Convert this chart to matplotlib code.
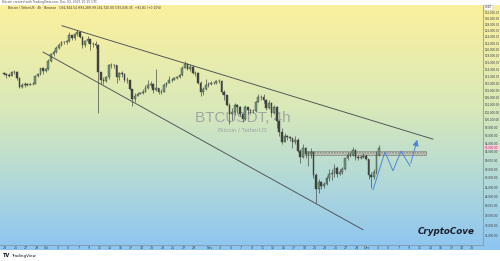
import matplotlib
matplotlib.use('Agg')
import matplotlib.pyplot as plt
import matplotlib.dates as mdates
import matplotlib.ticker as mticker
import numpy as np
from matplotlib.colors import LinearSegmentedColormap
from matplotlib.patches import Rectangle

# 12h candles (prices in thousand USDT), from 2025-09-22 12:00
first_open = 112.8
closes = [
    112.7,
    112.4, 112.0, 113.1, 113.3, 111.3, 109.0, 109.4, 109.6, 109.5, 109.7, 109.8, 112.0,
    112.6, 114.3, 113.6, 114.0, 116.5, 118.6, 119.2, 120.5, 121.4, 122.3, 122.3, 122.5,
    124.5, 123.5, 124.8, 125.5, 124.0, 121.4, 122.5, 123.3, 121.8, 121.7, 121.3, 113.2,
    111.0, 110.6, 111.6, 115.2, 115.3, 115.2, 111.6, 113.0, 112.6, 110.8, 110.9, 108.2,
    105.5, 106.4, 107.0, 107.2, 107.6, 108.6, 109.5, 109.7, 108.0, 108.5, 107.6, 107.6,
    109.4, 110.1, 110.8, 111.0, 111.3, 111.6, 112.3, 114.5, 115.5, 114.2, 114.6, 113.0,
    112.9, 110.1, 107.5, 108.3, 109.5, 109.6, 110.0, 110.1, 110.5, 110.6, 107.6, 106.5,
    104.0, 101.5, 102.0, 103.9, 103.4, 101.5, 100.3, 103.3, 102.5, 102.3, 102.4, 104.7,
    106.1, 106.0, 105.3, 103.0, 104.5, 101.7, 103.4, 99.7, 96.8, 94.5, 95.9, 95.6,
    95.3, 94.3, 95.0, 92.3, 90.8, 92.9, 91.5, 91.5, 92.0, 86.6, 83.5, 85.1,
    84.3, 84.7, 85.9, 86.8, 87.0, 88.3, 86.9, 87.4, 88.0, 90.5, 91.3, 91.3,
    92.5, 90.9, 90.6, 90.8, 91.0, 90.4, 86.7, 86.3, 87.3, 91.3,
    93.0,
]
highs = [
    113.3,
    113.0, 112.8, 113.5, 113.9, 113.4, 111.6, 110.0, 110.2, 109.9, 110.0, 110.2, 112.3,
    113.0, 114.5, 114.8, 114.4, 117.0, 118.9, 119.8, 121.0, 122.0, 122.8, 122.8, 122.9,
    125.7, 124.6, 125.1, 126.2, 125.5, 124.3, 123.0, 124.2, 123.2, 122.2, 122.6, 121.7,
    113.3, 111.8, 112.0, 115.5, 115.9, 115.5, 115.4, 113.3, 113.5, 113.0, 111.8, 111.0,
    108.3, 107.2, 107.4, 107.5, 108.4, 109.4, 110.8, 110.5, 110.0, 114.0, 108.7, 108.2,
    110.0, 110.4, 111.9, 111.4, 111.6, 111.9, 112.6, 115.0, 116.4, 115.9, 115.6, 115.2,
    113.6, 113.2, 110.5, 108.9, 111.2, 110.2, 110.5, 110.4, 111.0, 111.2, 110.8, 108.0,
    106.6, 104.5, 103.0, 104.5, 104.1, 103.7, 101.8, 104.0, 103.4, 102.9, 102.9, 105.0,
    106.8, 106.5, 107.0, 105.6, 105.3, 104.7, 104.0, 103.5, 99.9, 98.0, 96.6, 96.1,
    96.0, 95.4, 96.0, 95.3, 92.6, 93.8, 93.1, 92.2, 93.0, 92.2, 87.2, 85.7,
    85.3, 85.0, 86.5, 88.0, 88.0, 89.2, 88.7, 88.0, 88.4, 90.6, 91.9, 91.9,
    93.1, 92.7, 91.2, 91.2, 91.8, 91.4, 90.4, 87.4, 88.0, 92.3,
    93.6,
]
lows = [
    112.2,
    111.5, 111.6, 111.9, 112.6, 110.8, 108.6, 108.6, 109.0, 109.2, 109.3, 109.4, 109.7,
    111.6, 112.4, 112.7, 113.2, 113.9, 116.2, 117.9, 119.0, 120.0, 121.2, 121.6, 121.8,
    122.2, 123.0, 123.1, 124.2, 123.5, 120.6, 120.9, 121.9, 119.9, 120.8, 120.6, 101.9,
    109.6, 109.7, 110.3, 111.2, 114.5, 114.4, 109.9, 110.8, 111.8, 110.3, 110.0, 107.9,
    103.5, 104.8, 106.3, 106.8, 106.8, 107.4, 108.4, 108.9, 107.2, 107.8, 106.8, 106.9,
    107.6, 108.9, 109.9, 110.3, 110.8, 111.1, 111.4, 112.1, 114.3, 113.8, 113.4, 112.5,
    112.0, 109.7, 106.3, 106.5, 108.1, 108.8, 109.4, 109.7, 109.8, 109.9, 106.8, 105.3,
    103.6, 98.9, 100.0, 101.2, 101.9, 100.9, 99.3, 100.0, 101.6, 101.5, 101.7, 102.1,
    104.6, 105.3, 104.5, 102.5, 102.8, 100.8, 101.5, 98.0, 96.0, 94.0, 94.5, 95.0,
    94.6, 93.0, 94.0, 91.9, 89.3, 90.5, 90.6, 88.6, 90.5, 86.1, 80.6, 82.8,
    83.6, 83.8, 84.4, 85.4, 85.6, 86.3, 86.2, 86.6, 86.9, 87.7, 90.1, 90.8,
    91.0, 90.2, 90.2, 90.3, 90.5, 90.2, 85.8, 83.8, 85.8, 86.8,
    91.1,
]
start_time = np.datetime64('2025-09-22T12:00')

# drawings on the chart (date, price)
upper_line = (['2025-10-03T20:30', '2025-12-13T12:30'], [127600, 95100])
lower_line = (['2025-09-30T05:40', '2025-11-30T04:30'], [119200, 75200])
zone_dates = ['2025-11-19T03:30', '2025-12-12T04:30']
zone_prices = [91300, 92200]
proj_dates = ['2025-12-02T02:20', '2025-12-04T09:00', '2025-12-05T21:40',
              '2025-12-07T10:20', '2025-12-09T03:20', '2025-12-10T16:00']
proj_prices = [83400, 92000, 87600, 92200, 88700, 95600]

month_names = {10: 'Oct', 11: 'Nov', 12: 'Dec'}
tick_dates = ['2025-09-%02d' % d for d in (23, 25, 27, 29)]
for m in (10, 11, 12):
    for d in range(1, 30, 2):
        if m == 12 and d > 21:
            break
        tick_dates.append('2025-%02d-%02d' % (m, d))
price_ticks = list(range(74000, 132001, 2000))

# ---- figure
W, H = 500, 261
fig = plt.figure(figsize=(W / 100, H / 100), dpi=100, facecolor='white')

# gradient background
bg = fig.add_axes([0, 11 / H, 1, (250 - 5) / H])
cmap = LinearSegmentedColormap.from_list('tvbg', [(0, '#fcf09d'), (0.42, '#d9e9b9'),
                                                  (0.72, '#b2d9d8'), (1, '#8dc5f2')])
bg.imshow(np.linspace(0, 1, 256).reshape(-1, 1), aspect='auto', cmap=cmap,
          extent=[0, 1, 0, 1], origin='upper')
bg.axis('off')

ax = fig.add_axes([0, 16 / H, 483 / W, (245 - 5) / H])
ax.set_facecolor('none')

o = np.array([first_open] + closes[:-1]) * 1000
c = np.array(closes) * 1000
h = np.maximum(np.array(highs) * 1000, np.maximum(o, c))
l = np.minimum(np.array(lows) * 1000, np.minimum(o, c))
t = start_time + np.arange(len(c)) * np.timedelta64(12, 'h') + np.timedelta64(6, 'h')
x = mdates.date2num(t.astype('datetime64[m]').astype(object))

up = c >= o
ax.vlines(x, l, h, color='#3c3f3c', lw=0.45, zorder=3)
ax.bar(x[up], (c - o)[up], bottom=o[up], width=0.32, color='#6f9c7c',
       edgecolor='#3c3f3c', lw=0.3, zorder=4)
ax.bar(x[~up], (o - c)[~up], bottom=c[~up], width=0.32, color='#404340',
       edgecolor='#3c3f3c', lw=0.3, zorder=4)

def dn(s):
    return mdates.date2num(np.datetime64(s).astype(object))

for dates, prices in (upper_line, lower_line):
    ax.plot([dn(d) for d in dates], prices, color='#4b4f52', lw=0.65, zorder=5)

zx = [dn(d) for d in zone_dates]
ax.add_patch(Rectangle((zx[0], zone_prices[0]), zx[1] - zx[0], zone_prices[1] - zone_prices[0],
                       facecolor='#c4c8bc', edgecolor='#7d8078', lw=0.5, alpha=0.85,
                       hatch='......', zorder=2))

px = [dn(d) for d in proj_dates]
ax.plot(px[:-1], proj_prices[:-1], color='#4f86d9', lw=0.7, zorder=6)
ax.annotate('', xy=(px[-1], proj_prices[-1]), xytext=(px[-2], proj_prices[-2]),
            arrowprops=dict(arrowstyle='-|>,head_length=0.35,head_width=0.18',
                            color='#4f86d9', lw=0.7), zorder=6)

# scales
oct1 = dn('2025-10-01')
ax.set_xlim(oct1 - 47 / 5.25, oct1 + 436 / 5.25)
ax.set_yscale('log')
ax.set_ylim(72280, 134650)

ax.yaxis.tick_right()
ax.yaxis.set_major_locator(mticker.FixedLocator(price_ticks))
ax.yaxis.set_minor_locator(mticker.NullLocator())
ax.yaxis.set_major_formatter(mticker.FuncFormatter(lambda v, p: '{:,.2f}'.format(v)))
ax.tick_params(axis='y', length=0, pad=1.4, labelsize=2.0, labelcolor='#3a4048')

tick_labels = []
for s in tick_dates:
    mo, d = int(s[5:7]), int(s[8:10])
    tick_labels.append(month_names[mo] if d == 1 else str(d))
ax.xaxis.set_major_locator(mticker.FixedLocator([dn(s) for s in tick_dates]))
ax.xaxis.set_major_formatter(mticker.FixedFormatter(tick_labels))
ax.tick_params(axis='x', length=0, pad=1.0, labelsize=2.3, labelcolor='#3a4048')

for side in ('top', 'left'):
    ax.spines[side].set_visible(False)
for side in ('right', 'bottom'):
    ax.spines[side].set_color('#7f9099')
    ax.spines[side].set_linewidth(0.5)

# watermark
ax.text(0.502, 0.528, 'BTCUSDT, 4h', transform=ax.transAxes, ha='center', va='center',
        fontsize=11, family='Liberation Sans', color='#a0a7a3', zorder=1)
ax.text(0.502, 0.476, 'Bitcoin / TetherUS', transform=ax.transAxes, ha='center', va='center',
        fontsize=4.4, family='Liberation Sans', color='#a0a7a3', zorder=1)
ax.text(446 / 483, 0.058, 'CryptoCove', transform=ax.transAxes, ha='center', va='center',
        fontsize=6.3, fontweight='bold', fontstyle='italic', color='#1b1f2a', zorder=7)

# last price label on the price scale
ax.text(1.004, c[-1], '{:,.2f}'.format(c[-1]), transform=ax.get_yaxis_transform(),
        fontsize=2.0, color='#b3305f', va='center', ha='left',
        bbox=dict(boxstyle='square,pad=0.2', fc='#f4cfdc', ec='none'), zorder=8)
fig.text(485 / W, 1 - 7.5 / H, 'USDT', fontsize=2.0, color='#333333', va='center',
         bbox=dict(boxstyle='square,pad=0.25', fc='white', ec='#b0b0b0', lw=0.3))

# header lines
fig.text(2 / W, 1 - 2.5 / H, 'Bitcoin created with TradingView.com, Dec 03, 2025 10:15 UTC',
         fontsize=2.2, color='#555555', va='center')
fig.text(8 / W, 1 - 8 / H, 'Bitcoin / TetherUS \u00b7 4h \u00b7 Binance   O92,944.54 H93,289.99 '
         'L92,720.00 C93,036.35  +91.81 (+0.10%)', fontsize=2.2, color='#333333', va='center')
fig.text(3 / W, 1 - 255.5 / H, 'TV', fontsize=3.6, fontweight='bold', color='#131722', va='center')
fig.text(11 / W, 1 - 255.5 / H, 'TradingView', fontsize=3.0, color='#131722', va='center')

fig.savefig('out.png', dpi=100, facecolor='white')
